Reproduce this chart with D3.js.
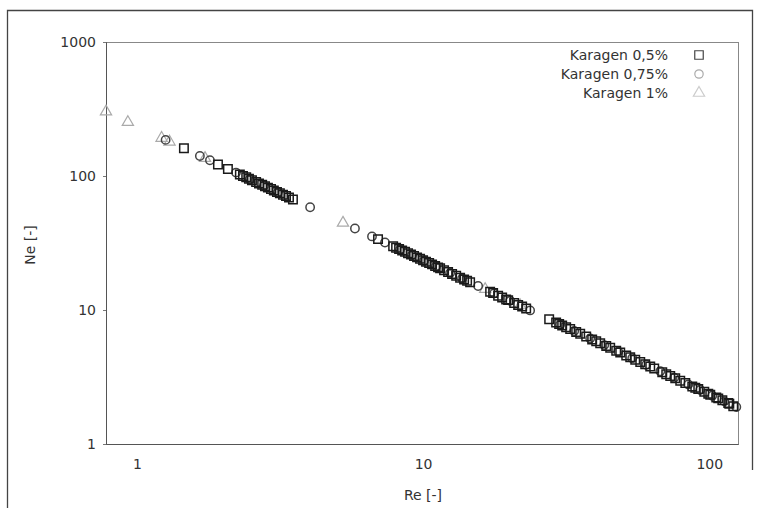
<!DOCTYPE html>
<html><head><meta charset="utf-8">
<script src="https://cdn.jsdelivr.net/npm/d3@7/dist/d3.min.js"></script>
<style>body{margin:0;background:#fff}svg{display:block}</style>
</head><body>
<svg id="c" width="758" height="508"></svg>
<script>
// Data (Re, Ne)
const seriesNames = ["Karagen 0,5%", "Karagen 0,75%", "Karagen 1%"];
const xTicks = [1, 10, 100];
const yTicks = [1, 10, 100, 1000];

const re05 = [1.46,1.92,2.08,2.29,2.41,2.61,2.74,2.87,3.01,3.16,3.32,3.51,6.96,7.86,8.45,8.86,9.30,9.76,10.24,10.75,11.47,12.23,13.05,13.91,14.60,17.15,18.29,19.51,20.81,22.19,27.58,29.17,31.62,34.28,37.15,40.27,43.65,47.30,51.27,57.39,64.22,70.74,79.17,87.22,96.06,105.8,116.5,121.3,
  2.348,2.464,2.524,2.671,2.803,2.942,3.087,3.240,3.400,8.048,8.245,8.651,9.078,9.528,10.00,10.50,11.02,11.28,11.84,12.63,13.47,14.25,17.57,18.89,19.83,21.49,22.92,29.89,30.62,32.66,35.40,38.98,41.58,45.06,48.85,52.94,55.12,59.73,62.19,68.51,73.04,76.05,82.46,89.34,91.52,99.19,100.8,107.5,111.1,117.5];
const ne05 = [161,122,113,102.5,97.7,90.1,85.9,81.9,78.0,74.3,70.8,66.9,33.8,29.9,27.8,26.5,25.3,24.1,22.9,21.9,20.5,19.2,18.0,16.9,16.1,13.7,12.8,12.0,11.3,10.6,8.52,8.06,7.43,6.86,6.33,5.84,5.38,4.97,4.58,4.09,3.66,3.32,2.97,2.69,2.45,2.22,2.02,1.91,
  100.1,95.4,93.1,88.0,83.8,79.9,76.1,72.5,69.1,29.2,28.5,27.2,25.9,24.7,23.5,22.4,21.3,20.8,19.8,18.6,17.4,16.5,13.4,12.4,11.85,10.9,10.25,7.86,7.67,7.20,6.64,6.03,5.65,5.22,4.81,4.44,4.26,3.93,3.78,3.43,3.22,3.09,2.85,2.63,2.57,2.37,2.33,2.19,2.12,2.00];

const re075 = [1.26,1.66,1.80,2.22,2.48,2.78,3.11,4.03,5.78,6.63,7.36,8.31,9.15,10.08,11.10,12.43,13.69,15.57,17.71,20.15,23.66,30.13,33.73,38.36,42.96,48.07,53.80,60.22,67.42,75.44,84.46,93.00,102.4,112.8,124.3];
const ne075 = [186,141,131,106,94.6,84.5,75.5,58.4,40.6,35.4,31.9,28.3,25.7,23.3,21.2,18.9,17.2,15.1,13.3,11.7,9.93,7.80,6.97,6.13,5.47,4.89,4.37,3.90,3.49,3.12,2.78,2.53,2.29,2.08,1.89];

const re1 = [0.78,0.93,1.22,1.30,1.73,5.25,16.48,21.84];
const ne1 = [302,252,192,180,136,44.7,14.3,10.8];

const svg = d3.select("#c");
const W = 758, H = 508;
const pL = 106, pR = 738, pT = 42, pB = 444;
const x = d3.scaleLog().domain([0.78, 126]).range([pL, pR]);
const y = d3.scaleLog().domain([1, 1000]).range([pB, pT]);
const font = "DejaVu Sans, Verdana, sans-serif";
const fs = "14px";

// outer frame
svg.append("path").attr("d", `M7.5,${H} L7.5,10.5 L752.5,10.5 L752.5,470`)
  .attr("fill", "none").attr("stroke", "#444").attr("stroke-width", 1.3);

// plot frame
svg.append("rect").attr("x", pL + 0.5).attr("y", pT + 0.5)
  .attr("width", pR - pL).attr("height", pB - pT)
  .attr("fill", "none").attr("stroke", "#888").attr("stroke-width", 1);

// axes
const xAxis = d3.axisBottom(x).tickValues(xTicks).tickFormat(d3.format("d")).tickSize(0).tickPadding(15);
const gx = svg.append("g").attr("transform", `translate(0,${pB})`).call(xAxis);
const yAxis = d3.axisLeft(y).tickValues(yTicks).tickFormat(d3.format("d")).tickSize(3).tickPadding(7);
const gy = svg.append("g").attr("transform", `translate(${pL},0)`).call(yAxis);
[gx, gy].forEach(g => {
  g.select(".domain").attr("stroke", "#555");
  g.selectAll(".tick line").attr("stroke", "#777");
  g.selectAll("text").attr("fill", "#333").style("font-family", font).style("font-size", fs);
});

// axis titles
svg.append("text").attr("x", 423).attr("y", 500).attr("text-anchor", "middle")
  .attr("fill", "#333").style("font-family", font).style("font-size", fs).text("Re [-]");
svg.append("text").attr("transform", "translate(35,245) rotate(-90)").attr("text-anchor", "middle")
  .attr("fill", "#333").style("font-family", font).style("font-size", fs).text("Ne [-]");

// markers
const sq = d3.symbol().type(d3.symbolSquare).size(72);
const ci = d3.symbol().type(d3.symbolCircle).size(55);
const tr = d3.symbol().type(d3.symbolTriangle).size(55);

const d1 = re1.map((v, i) => [v, ne1[i]]);
const d075 = re075.map((v, i) => [v, ne075[i]]);
const d05 = re05.map((v, i) => [v, ne05[i]]);

svg.append("g").selectAll("path").data(d1).join("path")
  .attr("d", tr).attr("transform", d => `translate(${x(d[0])},${y(d[1])})`)
  .attr("fill", "none").attr("stroke", "#aaa").attr("stroke-width", 1.2);
svg.append("g").selectAll("path").data(d075).join("path")
  .attr("d", ci).attr("transform", d => `translate(${x(d[0])},${y(d[1])})`)
  .attr("fill", "none").attr("stroke", "#444").attr("stroke-width", 1.5);
svg.append("g").selectAll("path").data(d05).join("path")
  .attr("d", sq).attr("transform", d => `translate(${x(d[0])},${y(d[1])})`)
  .attr("fill", "none").attr("stroke", "#1a1a1a").attr("stroke-width", 1.5);

// legend
const legSyms = [sq, ci, tr];
const legCols = ["#444", "#aaa", "#ccc"];
const legY = [55, 74, 93];
seriesNames.forEach((n, i) => {
  svg.append("text").attr("x", 668).attr("y", legY[i] + 5).attr("text-anchor", "end")
    .attr("fill", "#333").style("font-family", font).style("font-size", fs).text(n);
  svg.append("path").attr("d", legSyms[i]).attr("transform", `translate(699,${legY[i]})`)
    .attr("fill", "none").attr("stroke", legCols[i]).attr("stroke-width", 1.2);
});
</script>
</body></html>
